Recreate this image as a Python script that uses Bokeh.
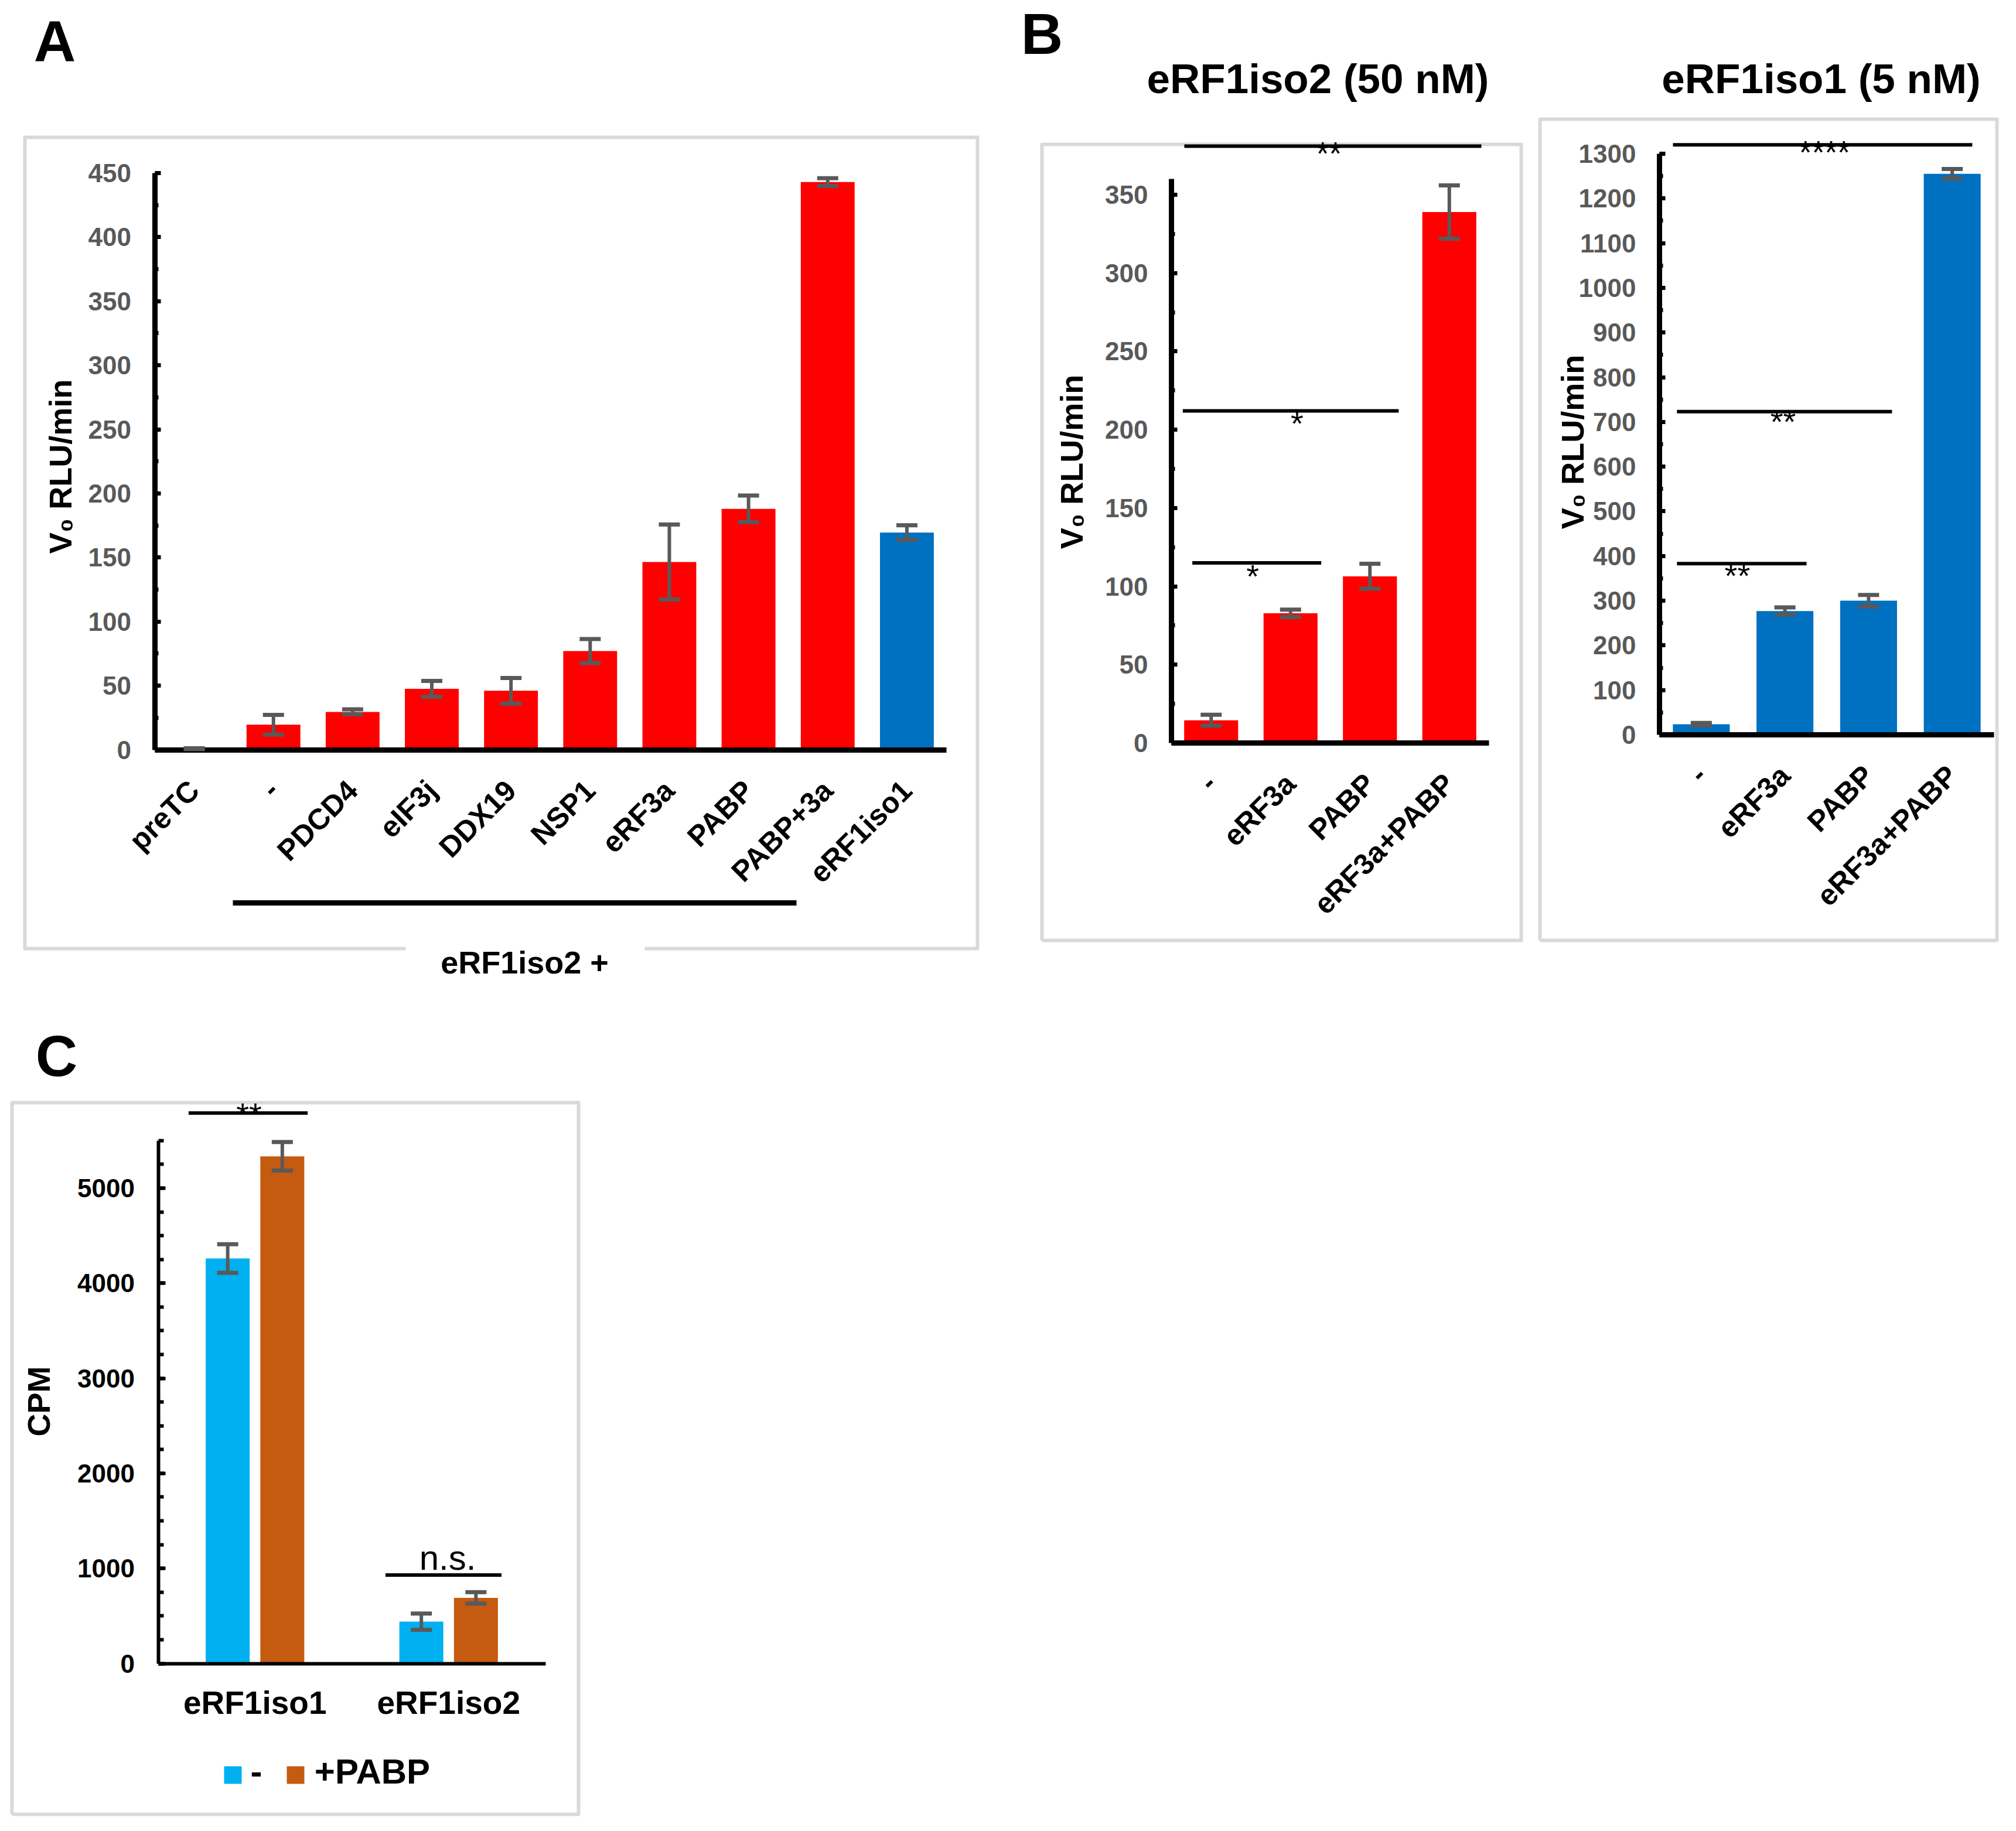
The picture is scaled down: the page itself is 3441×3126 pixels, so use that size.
import math
from bokeh.plotting import figure
from bokeh.models import (ColumnDataSource, Whisker, TeeHead, Range1d, FixedTicker, LinearAxis,
                          SingleIntervalTicker)
from bokeh.core.properties import value
from bokeh.embed import file_html
from bokeh.resources import INLINE

FONT = "Liberation Sans"
RED = "#ff0000"
BLUE = "#0070c0"
CYAN = "#00b0f0"
ORANGE = "#c55a11"
ERRC = "#595959"
TICKC = "#595959"
BOXC = "#d9d9d9"

# ---------------- data ----------------
# Panel A : V0 (RLU/min), eRF1iso2 + factor
a_categories = ["preTC", "-", "PDCD4", "eIF3j", "DDX19", "NSP1", "eRF3a", "PABP", "PABP+3a", "eRF1iso1"]
a_values = [0.8, 19.5, 29.5, 47.5, 46.0, 77.0, 146.5, 188.0, 443.0, 169.5]
a_errors = [0.3, 7.7, 2.0, 6.2, 10.0, 9.4, 29.2, 10.4, 3.0, 5.7]

# Panel B
b_categories = ["-", "eRF3a", "PABP", "eRF3a+PABP"]
b_iso2_values = [14.5, 82.8, 106.4, 339.0]
b_iso2_errors = [3.5, 2.4, 8.0, 17.0]
b_iso1_values = [23.5, 277.0, 300.0, 1255.0]
b_iso1_errors = [3.0, 8.0, 13.0, 11.0]

# Panel C : CPM
c_categories = ["eRF1iso1", "eRF1iso2"]
c_series = ["-", "+PABP"]
c_minus_values = [4260, 440]
c_minus_errors = [150, 85]
c_pabp_values = [5335, 690]
c_pabp_errors = [150, 60]

# significance brackets: (start, end [category units], height [data], text, text x)
b_iso2_sig = [(0.162, 3.904, 381, "**", 1.985), (0.143, 2.863, 212, "*", 1.583), (0.263, 1.887, 115, "*", 1.023)]
b_iso1_sig = [(0.161, 3.740, 1320, "****", 1.975), (0.209, 2.780, 723, "**", 1.478), (0.209, 1.758, 383, "**", 0.931)]
c_sig = [(0.157, 0.772, 5790, "**", 0.469), (1.174, 1.773, 930, "n.s.", 1.495)]

# ---------------- page geometry (window pixels) ----------------
PAD = 8
W, H = 3425, 3110
MID = 0.35          # em-box middle above the alphabetic baseline
FLAT = 1e-6         # horizontal text


class Panel:
    """A sub-chart drawn on the shared canvas with its own x/y ranges.
    Data (0, 0) sits at window pixel `origin`; sx, sy are pixels per data unit."""

    def __init__(self, name, origin, sx, sy):
        self.xr, self.yr = "x" + name, "y" + name
        self.ox, self.oy = origin
        self.sx, self.sy = sx, sy
        self.x_range = Range1d(self.x(PAD), self.x(PAD + W))
        self.y_range = Range1d(self.y(PAD + H), self.y(PAD))

    def x(self, wx):
        return (wx - self.ox) / self.sx

    def y(self, wy):
        return (self.oy - wy) / self.sy

    def kw(self):
        return dict(x_range_name=self.xr, y_range_name=self.yr)


A = Panel("A", (271.5, 1287.5), 135.15, (1287.5 - 303) / 450)
B1 = Panel("B1", (2007, 1276), 135.5, (1276 - 340) / 350)
B2 = Panel("B2", (2840, 1262), 142.75, (1262 - 270) / 1300)
C = Panel("C", (277.5, 2847.5), 330.5, (2847.5 - 2036) / 5000)
PANELS = [A, B1, B2, C]

p = figure(width=W, height=H, x_range=Range1d(0, W), y_range=Range1d(0, H),
           x_axis_location=None, y_axis_location=None,
           output_backend="svg", toolbar_location=None,
           min_border=0, min_border_left=0, min_border_right=0, min_border_top=0, min_border_bottom=0,
           background_fill_color="white", border_fill_color="white")
p.extra_x_ranges = {pn.xr: pn.x_range for pn in PANELS}
p.extra_y_ranges = {pn.yr: pn.y_range for pn in PANELS}
p.grid.visible = False
p.outline_line_color = None

TEXTS = []   # drawn last, on the overlay level


def add_text(pn, wx, wy_base, txt, size, bold=True, angle=FLAT, middle=False, order=0):
    wy = wy_base if middle else wy_base - MID * size
    TEXTS.append((order, pn, wx, wy, txt, size, bold, angle))


def polyline(pn, pts, color=BOXC, width=6):
    p.line([pn.x(a) for a, b in pts], [pn.y(b) for a, b in pts],
           line_color=color, line_width=width, line_join="round", **pn.kw())


def add_axes(pn, cats, interval, nminor, ymax, tick_color, axis_w=9, tick_w=7, maj_in=10, min_in=6,
             rotate=True, xlab_size=50, xlab_standoff=55):
    ya = LinearAxis(fixed_location=0, bounds=(0, ymax),
                    ticker=SingleIntervalTicker(interval=interval, num_minor_ticks=nminor), **pn.kw())
    ya.major_label_text_font = FONT
    ya.major_label_text_font_size = "44px"
    ya.major_label_text_font_style = "bold"
    ya.major_label_text_color = tick_color
    ya.major_label_standoff = 40
    ya.axis_line_width = axis_w
    ya.axis_line_color = "black"
    ya.major_tick_in = maj_in
    ya.major_tick_out = 0
    ya.minor_tick_in = min_in
    ya.minor_tick_out = 0
    ya.major_tick_line_width = tick_w
    ya.minor_tick_line_width = tick_w
    ya.major_tick_line_color = "black"
    ya.minor_tick_line_color = "black"
    p.add_layout(ya, "left")

    centers = [i + 0.5 for i in range(len(cats))]
    overrides = {}
    for c, name in zip(centers, cats):
        overrides[c] = name
        overrides[str(c)] = name
    xa = LinearAxis(fixed_location=0, bounds=(0, len(cats)),
                    ticker=FixedTicker(ticks=centers, minor_ticks=[]),
                    major_label_overrides=overrides, **pn.kw())
    xa.axis_line_width = axis_w
    xa.axis_line_color = "black"
    xa.major_tick_line_color = None
    xa.minor_tick_line_color = None
    xa.major_label_text_font = FONT
    xa.major_label_text_font_size = f"{xlab_size}px"
    xa.major_label_text_font_style = "bold"
    xa.major_label_text_color = "black"
    xa.major_label_standoff = xlab_standoff
    if rotate:
        xa.major_label_orientation = math.pi / 4
    p.add_layout(xa, "below")


def bars_with_errors(pn, vals, errs, colors, width, shift=0.0):
    xs = [i + 0.5 + shift for i in range(len(vals))]
    src = ColumnDataSource(dict(x=xs, val=vals, upper=[v + e for v, e in zip(vals, errs)],
                                lower=[v - e for v, e in zip(vals, errs)], color=colors))
    p.vbar(x="x", top="val", width=width, fill_color="color", line_color=None, source=src, **pn.kw())
    w = Whisker(source=src, base="x", upper="upper", lower="lower", level="annotation",
                line_color=ERRC, line_width=6,
                upper_head=TeeHead(size=36, line_color=ERRC, line_width=7),
                lower_head=TeeHead(size=36, line_color=ERRC, line_width=7), **pn.kw())
    p.add_layout(w)


def brackets(pn, sig, text_offsets, star_size=56, ns_size=60):
    src = ColumnDataSource(dict(x0=[s[0] for s in sig], x1=[s[1] for s in sig],
                                y=[s[2] for s in sig]))
    p.segment(x0="x0", y0="y", x1="x1", y1="y", line_color="black", line_width=6, source=src, **pn.kw())
    for (x0, x1, h, txt, tx), off in zip(sig, text_offsets):
        size = ns_size if txt == "n.s." else star_size
        add_text(pn, pn.ox + tx * pn.sx, pn.oy - h * pn.sy + off, txt, size, bold=False, order=1)


# ---------------- Panel A ----------------
bars_with_errors(A, a_values, a_errors, [BLUE if c == "eRF1iso1" else RED for c in a_categories], 0.68)
add_axes(A, a_categories, 50, 2, 450, TICKC)
polyline(A, [(700, 1627), (50, 1627), (50, 242), (1676, 242), (1676, 1627), (1108, 1627)])
polyline(A, [(405, 1549), (1367, 1549)], color="black", width=9)
add_text(A, 110, 804, "V\u2080 RLU/min", 54, angle=math.pi / 2, middle=True, order=0)
add_text(A, 903, 1669, "eRF1iso2 +", 54, order=2)
add_text(A, 101, 112, "A", 99, order=9)

# ---------------- Panel B (eRF1iso2) ----------------
bars_with_errors(B1, b_iso2_values, b_iso2_errors, [RED] * 4, 0.68)
add_axes(B1, b_categories, 50, 2, 360, TICKC)
polyline(B1, [(1786, 1613), (1786, 254), (2604, 254), (2604, 1613), (1786, 1613)])
brackets(B1, b_iso2_sig, [32, 41, 42])
add_text(B1, 1836, 796, "V\u2080 RLU/min", 54, angle=math.pi / 2, middle=True, order=0)
add_text(B1, 2257, 167, "eRF1iso2 (50 nM)", 71, order=3)
add_text(B1, 1786, 100, "B", 99, order=9)

# ---------------- Panel B (eRF1iso1) ----------------
bars_with_errors(B2, b_iso1_values, b_iso1_errors, [BLUE] * 4, 0.68)
add_axes(B2, b_categories, 100, 2, 1300, TICKC)
polyline(B2, [(2636, 1613), (2636, 211), (3416, 211), (3416, 1613), (2636, 1613)])
brackets(B2, b_iso1_sig, [32, 36, 40])
add_text(B2, 2691, 762, "V\u2080 RLU/min", 54, angle=math.pi / 2, middle=True, order=0)
add_text(B2, 3116, 167, "eRF1iso1 (5 nM)", 71, order=3)

# ---------------- Panel C ----------------
bars_with_errors(C, c_minus_values, c_minus_errors, [CYAN] * 2, 0.227, shift=-0.141)
bars_with_errors(C, c_pabp_values, c_pabp_errors, [ORANGE] * 2, 0.227, shift=0.141)
add_axes(C, c_categories, 1000, 4, 5500, "black", axis_w=6, tick_w=6, maj_in=12, min_in=9,
         rotate=False, xlab_size=55, xlab_standoff=30)
polyline(C, [(28, 3105), (28, 1890), (995, 1890), (995, 3105), (28, 3105)])
brackets(C, c_sig, [22, -9])
add_text(C, 73, 2400, "CPM", 54, angle=math.pi / 2, middle=True, order=0)
# legend (drawn from the series names / colours)
for (lx, tx), name, colr in zip([(405, 445), (512, 643)], c_series, [CYAN, ORANGE]):
    p.scatter([C.x(lx)], [C.y(3038)], marker="square", size=30, fill_color=colr, line_color=None, **C.kw())
    add_text(C, tx, 3053, name, 60, order=4)
add_text(C, 104, 1845, "C", 99, order=9)

# ---------------- texts (overlay level, drawn last) ----------------
for order, pn, wx, wy, txt, size, bold, angle in sorted(TEXTS, key=lambda t: t[0]):
    p.text(x=[pn.x(wx)], y=[pn.y(wy)], text=[txt], angle=angle,
           text_font=value(FONT), text_font_size=value(f"{size}px"),
           text_font_style=value("bold" if bold else "normal"),
           text_align=value("center"), text_baseline=value("middle"),
           text_color=value("black"), level="overlay", **pn.kw())

open("out.html", "w").write(file_html(p, INLINE))
